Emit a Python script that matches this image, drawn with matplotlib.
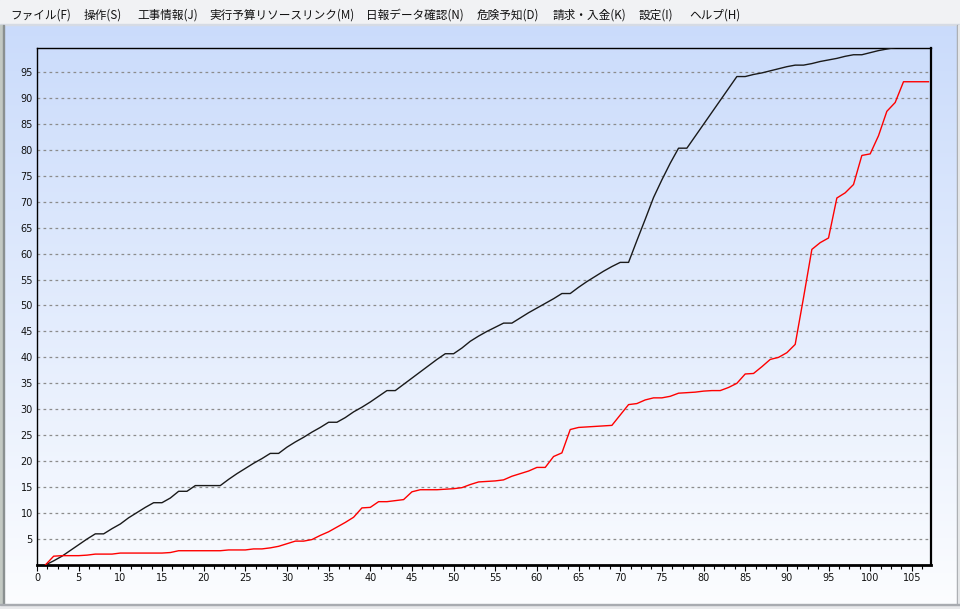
import numpy as np
import matplotlib.pyplot as plt
from matplotlib.patches import Rectangle
from matplotlib.ticker import MultipleLocator

# menu bar items and where they sit (pixels from the left)
menu_items = ['ファイル(F)', '操作(S)', '工事情報(J)', '実行予算リソースリンク(M)',
              '日報データ確認(N)', '危険予知(D)', '請求・入金(K)', '設定(I)', 'ヘルプ(H)']
menu_x = [10, 84, 137, 209, 366, 477, 553, 639, 689]

# black series (days 1..103)
black_days = list(range(1, 104))
black_vals = [0, 0.8, 1.7, 2.8, 3.9, 5.0, 6.0, 6.0, 7.0, 7.9,
              9.1, 10.1, 11.1, 12.0, 12.0, 12.9, 14.2, 14.2, 15.3, 15.3,
              15.3, 15.3, 16.5, 17.6, 18.6, 19.6, 20.5, 21.5, 21.5, 22.7,
              23.7, 24.6, 25.6, 26.5, 27.5, 27.5, 28.4, 29.5, 30.4, 31.4,
              32.5, 33.6, 33.6, 34.8, 36.0, 37.2, 38.4, 39.6, 40.7, 40.7,
              41.8, 43.1, 44.1, 45.0, 45.8, 46.6, 46.6, 47.6, 48.6, 49.5,
              50.4, 51.3, 52.3, 52.3, 53.5, 54.6, 55.6, 56.6, 57.5, 58.3,
              58.3, 62.5, 66.6, 70.8, 74.2, 77.4, 80.3, 80.3, 82.6, 84.9,
              87.2, 89.5, 91.8, 94.1, 94.1, 94.5, 94.8, 95.2, 95.6, 96.0,
              96.3, 96.3, 96.6, 97.0, 97.3, 97.6, 98.0, 98.3, 98.3, 98.7,
              99.1, 99.4, 99.7]

# red series (days 1..107)
red_days = list(range(1, 108))
red_vals = [0, 1.7, 1.8, 1.8, 1.8, 1.9, 2.1, 2.1, 2.1, 2.3,
            2.3, 2.3, 2.3, 2.3, 2.3, 2.4, 2.75, 2.75, 2.75, 2.75,
            2.75, 2.75, 2.9, 2.9, 2.9, 3.1, 3.1, 3.3, 3.6, 4.1,
            4.6, 4.6, 4.9, 5.7, 6.4, 7.3, 8.2, 9.2, 11.0, 11.1,
            12.2, 12.2, 12.4, 12.6, 14.1, 14.5, 14.5, 14.5, 14.6, 14.7,
            14.9, 15.5, 16.0, 16.1, 16.2, 16.4, 17.1, 17.6, 18.1, 18.8,
            18.8, 20.9, 21.6, 26.1, 26.5, 26.6, 26.7, 26.8, 26.9, 28.9,
            30.9, 31.1, 31.8, 32.2, 32.2, 32.5, 33.1, 33.2, 33.3, 33.5,
            33.6, 33.6, 34.2, 35.0, 36.8, 36.9, 38.2, 39.6, 40.0, 40.9,
            42.5, 51.5, 60.8, 62.1, 63.0, 70.7, 71.7, 73.3, 78.9, 79.2,
            82.7, 87.4, 89.1, 93.1, 93.1, 93.1, 93.1]

y_ticks = list(range(5, 100, 5))
x_ticks = list(range(0, 110, 5))

W, H = 960, 609
fig = plt.figure(figsize=(W / 100, H / 100), dpi=100)

# window background: light blue fading to white
bg = fig.add_axes([0, 0, 1, 1], zorder=-10)
grad = np.linspace(0, 1, 256).reshape(-1, 1)
top_c = np.array([200, 218, 251]) / 255
bot_c = np.array([252, 253, 255]) / 255
img = top_c + (bot_c - top_c) * grad[..., None]
bg.imshow(img, aspect='auto', extent=[0, 1, 0, 1], origin='upper')
bg.set_xlim(0, 1)
bg.set_ylim(0, 1)
bg.axis('off')

# menu bar
bg.add_patch(Rectangle((0, 1 - 24 / H), 1, 24 / H, color='#f1f2f4', zorder=2))
bg.add_patch(Rectangle((0, 1 - 25 / H), 1, 1 / H, color='#d6dbe4', zorder=2))
for label, px in zip(menu_items, menu_x):
    bg.text(px / W, 1 - 15.5 / H, label, fontsize=8.4, va='center', ha='left',
            family=['Noto Sans CJK JP', 'DejaVu Sans'], color='#111111', zorder=3)

# window edges
bg.add_patch(Rectangle((0, 0), 3 / W, 1 - 25 / H, color='#c3c9c3', zorder=2))
bg.add_patch(Rectangle((3 / W, 0), 1 / W, 1 - 25 / H, color='#8a9090', zorder=2))
bg.add_patch(Rectangle((957 / W, 0), 1 / W, 1 - 25 / H, color='#a0a4a8', zorder=2))
bg.add_patch(Rectangle((958 / W, 0), 2 / W, 1 - 25 / H, color='#e4e6e8', zorder=2))
bg.add_patch(Rectangle((0, 0), 1, 4 / H, color='#e8e9eb', zorder=2))
bg.add_patch(Rectangle((0, 4 / H), 1, 1 / H, color='#a8abb0', zorder=2))

# chart area
ax = fig.add_axes([37 / W, 1 - 565 / H, (931 - 37) / W, (565 - 48) / H])
ax.set_facecolor('none')
ax.set_xlim(0, 107.3)
ax.set_ylim(0, 99.6)

for y in y_ticks:
    ax.axhline(y, color='#8c8c8c', lw=0.9, ls=(0, (2.2, 2.6)), zorder=1)

ax.plot(black_days, black_vals, color='#1a1a1a', lw=1.0, zorder=3)
ax.plot(red_days, red_vals, color='#ff0000', lw=1.0, zorder=3)

ax.set_yticks(y_ticks)
ax.set_xticks(x_ticks)
ax.xaxis.set_minor_locator(MultipleLocator(1.25))
ax.tick_params(axis='x', which='major', length=4, width=0.8, labelsize=7, pad=2)
ax.tick_params(axis='x', which='minor', length=3, width=0.8)
ax.tick_params(axis='y', length=0, labelsize=7, pad=3)
for lbl in ax.get_xticklabels() + ax.get_yticklabels():
    lbl.set_color('#111111')

for s in ax.spines.values():
    s.set_linewidth(1.0)
    s.set_color('black')
ax.spines['bottom'].set_linewidth(2.0)
ax.spines['right'].set_linewidth(1.6)

fig.savefig('out.png', dpi=100)
